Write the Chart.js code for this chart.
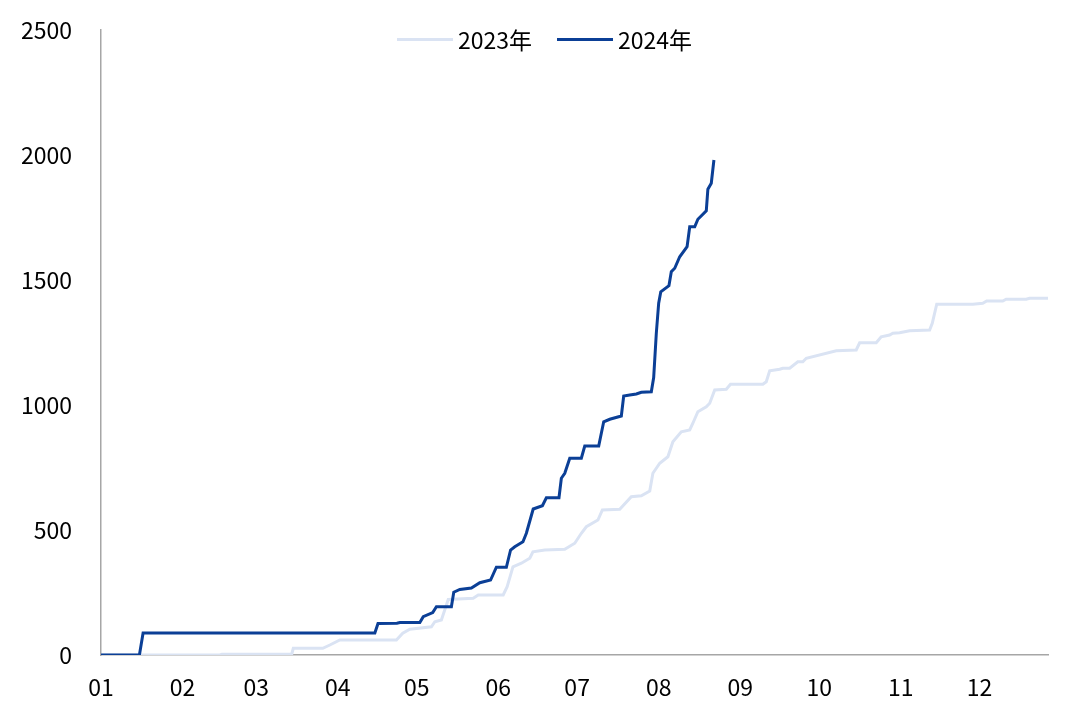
<!DOCTYPE html>
<html>
<head>
<meta charset="utf-8">
<script src="https://cdn.jsdelivr.net/npm/chart.js@4.4.1/dist/chart.umd.min.js"></script>
<style>
    body { margin: 0; background: #fff; }
    #wrap { position: relative; width: 1080px; height: 720px; }
    .legend { position: absolute; top: 22px; left: 397px; display: flex; align-items: center;
        font-family: "Noto Sans CJK SC", "Noto Sans", sans-serif; font-size: 23px; color: #000; }
    .legend-item { display: flex; align-items: center; margin-right: 25px; }
    .legend-line { display: inline-block; width: 56px; height: 3px; margin-right: 5px; }
</style>
</head>
<body>
<div id="wrap">
    <canvas id="chart" width="1080" height="720"></canvas>
    <div class="legend" id="legend"></div>
</div>
<script>
// Month ticks (day of year where each month starts)
const monthLabels = ['01', '02', '03', '04', '05', '06', '07', '08', '09', '10', '11', '12'];
const monthStarts = [0, 31, 59, 90, 120, 151, 181, 212, 243, 273, 304, 334];
const yTicks = [0, 500, 1000, 1500, 2000, 2500];

// 2023 cumulative series (day of year, value)
const days2023 = [0, 45.2, 46.0, 72.5, 73.1, 84.3, 87.0, 90.8, 112.3, 114.7, 117.4, 125.6, 126.9, 129.4, 132.0,
    141.5, 143.4, 152.9, 154.4, 156.6, 159.8, 163.0, 164.2, 168.7, 176.3, 180.1, 182.6, 184.5, 188.9, 190.6,
    197.2, 201.6, 205.4, 208.6, 209.8, 212.4, 215.5, 217.4, 220.6, 223.8, 225.0, 226.9, 230.1, 231.4, 233.3,
    237.7, 239.3, 251.6, 252.9, 254.2, 258.0, 259.2, 261.8, 264.9, 266.8, 268.1, 279.5, 287.1, 288.4, 294.7,
    296.6, 299.8, 301.0, 303.6, 307.4, 315.0, 316.0, 317.7, 331.4, 335.2, 336.7, 342.8, 344.1, 351.7, 353.0, 360];
const values2023 = [0, 0, 3, 3, 27, 27, 40, 60, 60, 87, 103, 113, 133, 140, 222,
    227, 240, 240, 273, 353, 367, 387, 413, 420, 423, 447, 487, 513, 540, 580,
    583, 633, 637, 656, 727, 767, 793, 853, 893, 900, 927, 973, 993, 1007, 1060,
    1063, 1083, 1083, 1093, 1137, 1143, 1147, 1147, 1173, 1173, 1187, 1217, 1220, 1249, 1249,
    1273, 1280, 1287, 1289, 1297, 1300, 1327, 1403, 1403, 1407, 1416, 1416, 1423, 1423, 1427, 1427];

// 2024 cumulative series (day of year, value)
const days2024 = [0, 14.6, 16.0, 104.1, 105.3, 112.5, 113.6, 121.2, 122.5, 126.1, 127.5, 133.2, 134.1, 136.4,
    140.8, 144.0, 148.1, 150.3, 154.1, 155.7, 157.3, 160.4, 161.7, 164.3, 167.8, 169.3, 174.1, 175.0, 176.3,
    178.2, 182.6, 183.9, 189.2, 191.1, 193.4, 197.8, 198.7, 201.0, 203.5, 205.4, 209.2, 210.1, 211.1, 212.0,
    212.8, 215.9, 216.8, 218.1, 220.0, 222.8, 223.8, 225.7, 226.9, 230.1, 230.7, 232.0, 233.0];
const values2024 = [0, 0, 88, 88, 126, 127, 130, 130, 153, 170, 193, 193, 251, 262,
    268, 289, 300, 351, 351, 420, 433, 453, 487, 584, 597, 629, 629, 707, 727,
    787, 787, 836, 836, 933, 943, 956, 1036, 1040, 1044, 1051, 1053, 1110, 1287, 1407,
    1453, 1477, 1533, 1547, 1593, 1633, 1713, 1713, 1743, 1777, 1863, 1887, 1980];

const seriesNames = ['2023年', '2024年'];
const seriesColors = ['#dae3f3', '#0b3f96'];

function toPoints(days, values) {
    return days.map((d, i) => ({ x: d, y: values[i] }));
}

const fontFamily = '"Noto Sans CJK SC", "Noto Sans", sans-serif';

const ctx = document.getElementById('chart');
new Chart(ctx, {
    type: 'line',
    data: {
        datasets: [
            {
                label: seriesNames[0],
                data: toPoints(days2023, values2023),
                borderColor: seriesColors[0],
                borderWidth: 3,
                pointRadius: 0,
                tension: 0,
                order: 1
            },
            {
                label: seriesNames[1],
                data: toPoints(days2024, values2024),
                borderColor: seriesColors[1],
                borderWidth: 3,
                pointRadius: 0,
                tension: 0,
                order: 0
            }
        ]
    },
    options: {
        responsive: false,
        animation: false,
        layout: { padding: { top: 30, right: 32, left: 0, bottom: 0 } },
        plugins: {
            legend: { display: false },
            tooltip: { enabled: false }
        },
        scales: {
            x: {
                type: 'linear',
                min: 0,
                max: 360,
                grid: { display: false, drawTicks: false },
                border: { display: true, color: '#a6a6a6', width: 1.5 },
                afterBuildTicks: axis => {
                    axis.ticks = monthStarts.map(v => ({ value: v }));
                },
                afterFit: axis => {
                    axis.height = 65;
                    axis.paddingLeft = 0;
                    axis.paddingRight = 0;
                },
                ticks: {
                    autoSkip: false,
                    maxRotation: 0,
                    padding: 18,
                    color: '#000',
                    font: { family: fontFamily, size: 23 },
                    callback: value => monthLabels[monthStarts.indexOf(value)]
                }
            },
            y: {
                min: 0,
                max: 2500,
                grid: { display: false, drawTicks: false },
                border: { display: true, color: '#a6a6a6', width: 1.5 },
                afterBuildTicks: axis => {
                    axis.ticks = yTicks.map(v => ({ value: v }));
                },
                afterFit: axis => {
                    axis.width = 101;
                    axis.paddingTop = 0;
                    axis.paddingBottom = 0;
                },
                ticks: {
                    padding: 29,
                    color: '#000',
                    font: { family: fontFamily, size: 23 },
                    callback: value => String(value)
                }
            }
        }
    }
});

// Legend as plain DOM, line sample + label
const legendEl = document.getElementById('legend');
seriesNames.forEach((name, i) => {
    const item = document.createElement('div');
    item.className = 'legend-item';
    item.innerHTML = `<span class="legend-line" style="background:${seriesColors[i]}"></span><span>${name}</span>`;
    legendEl.appendChild(item);
});
</script>
</body>
</html>
